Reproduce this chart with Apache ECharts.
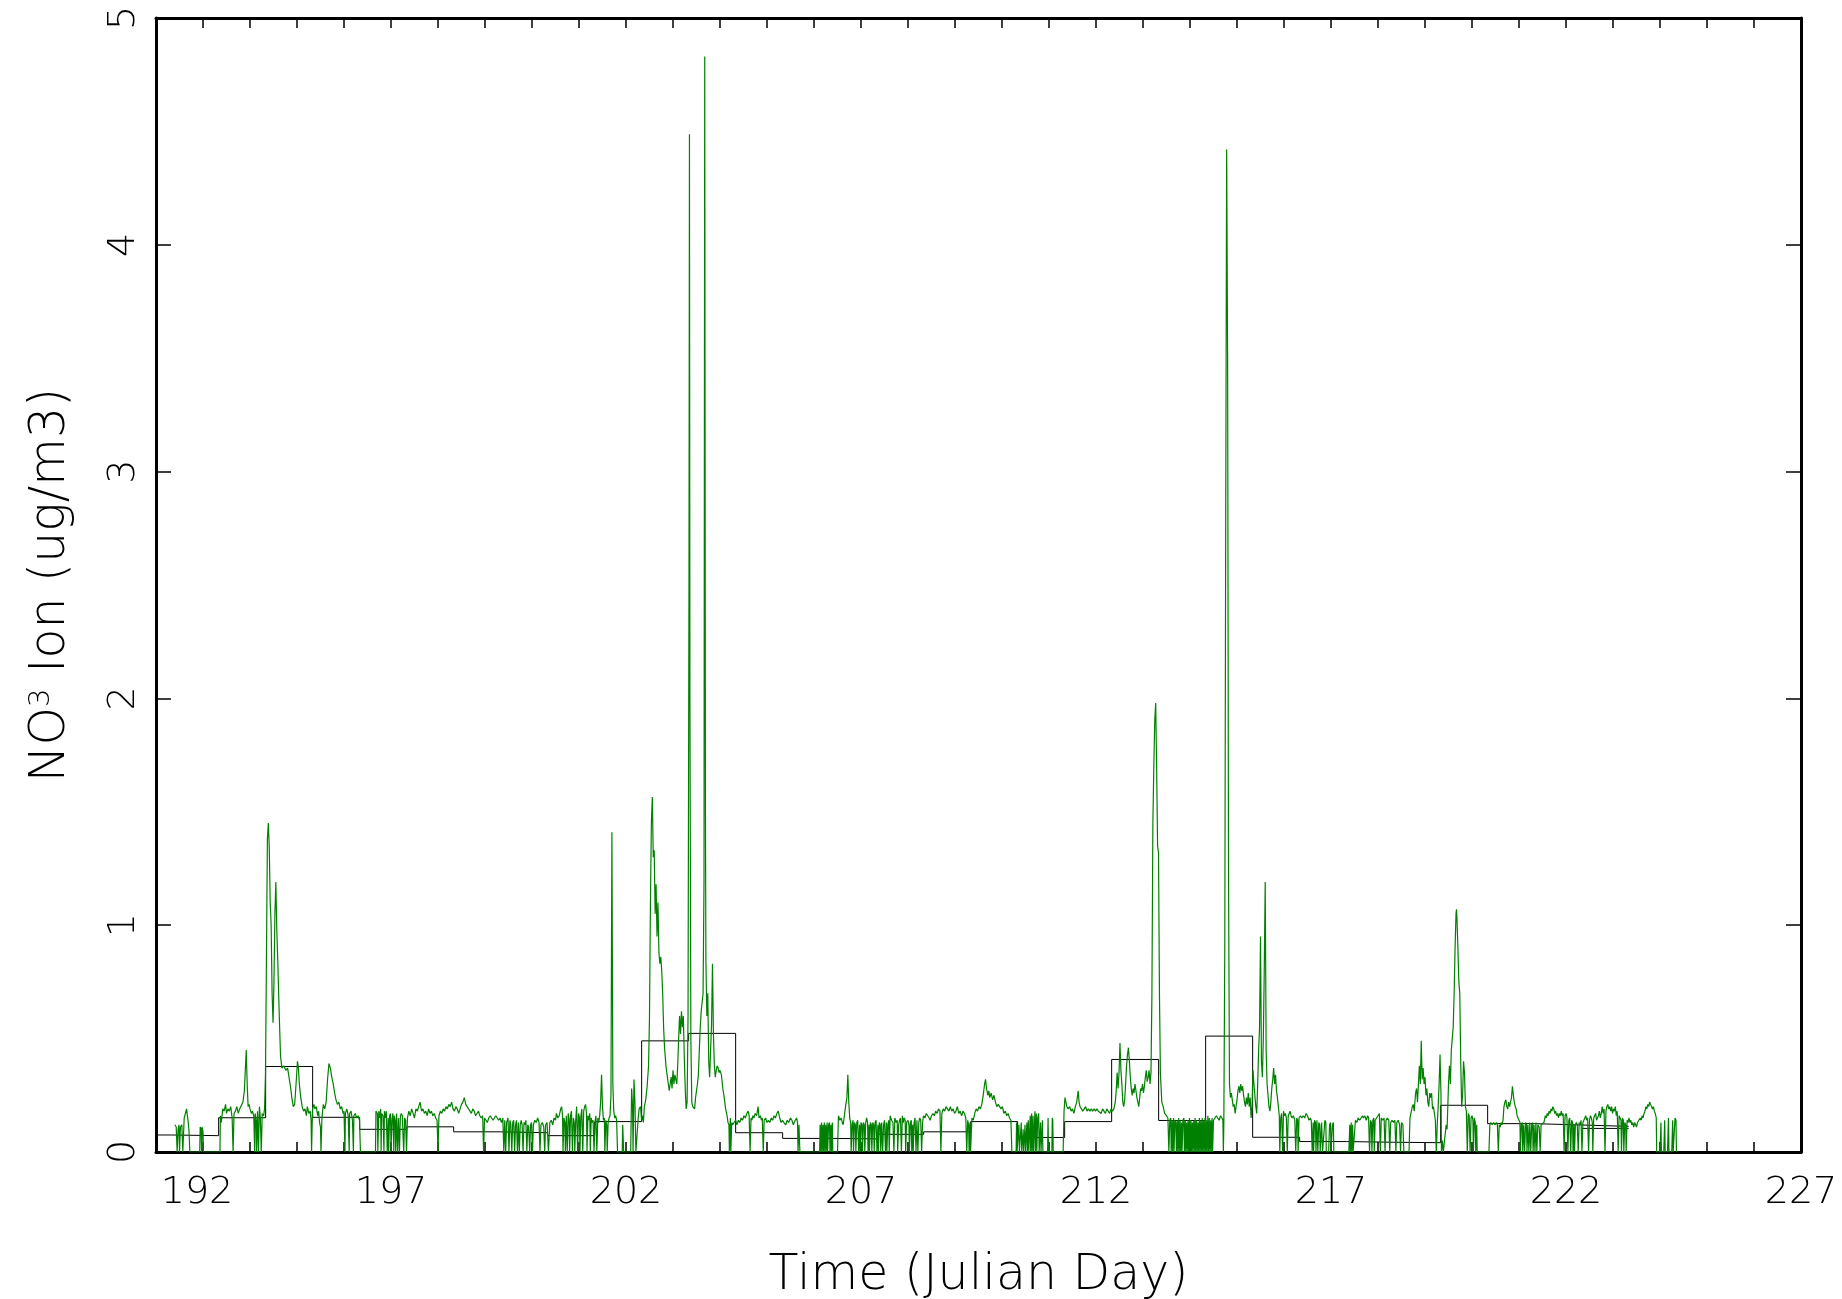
<!DOCTYPE html>
<html>
<head>
<meta charset="utf-8">
<script src="https://cdn.jsdelivr.net/npm/echarts@6/dist/echarts.min.js"></script>
<style>
  html, body { margin: 0; padding: 0; background: #fff; }
  #chart { width: 1842px; height: 1299px; }
</style>
</head>
<body>
<div id="chart"></div>
<script>
// Nitrate ion concentration, July/August campaign (Julian day axis)

// Axis ranges and tick labels
const dayMin = 192, dayMax = 227, dayLabelStep = 5;
const no3Min = 0, no3Max = 5, no3Step = 1;

// Daily filter averages: interval start day and mean NO3 (ug/m3)
const avgStartDay = [191.333, 192.333, 193.333, 194.333, 195.333, 196.333, 197.333, 198.333,
  199.333, 200.333, 201.333, 202.333, 203.333, 204.333, 205.333, 206.333,
  207.333, 208.333, 209.333, 210.333, 211.333, 212.333, 213.333, 214.333,
  215.333, 216.333, 217.333, 218.333, 219.333, 220.333, 221.333, 222.333];
const avgNO3 = [0.075, 0.072, 0.151, 0.377, 0.153, 0.100, 0.111, 0.089,
  0.085, 0.072, 0.134, 0.490, 0.523, 0.085, 0.060, 0.058,
  0.078, 0.089, 0.134, 0.064, 0.134, 0.408, 0.139, 0.511,
  0.065, 0.046, 0.043, 0.041, 0.206, 0.125, 0.119, 0.113];
const avgEndDay = 223.333;
// second estimate for the final filter day
const altDay = [222.333, 223.333];
const altNO3 = [0.104, 0.104];

// Continuous ion monitor, [day, NO3] pairs written flat
const traceWeek1 = [
  192.40,0.12, 192.43,0.11, 192.45,0, 192.47,0.10, 192.49,0.12, 192.50,0, 192.52,0.11, 192.55,0.12, 192.57,0,
  192.60,0.15, 192.65,0.19, 192.68,0.14, 192.70,0.10, 192.72,0, 192.93,0, 192.94,0.11, 192.96,0.10, 192.97,0,
  192.98,0.11, 193.00,0.09, 193.01,0, 193.36,0,
  193.37,0.16, 193.39,0.13, 193.42,0.19, 193.45,0.18, 193.48,0.21, 193.50,0.17, 193.53,0.19, 193.56,0.18,
  193.59,0.20, 193.62,0.15, 193.64,0, 193.66,0.17, 193.69,0.18, 193.72,0.20, 193.75,0.17, 193.78,0.19,
  193.82,0.19, 193.85,0.22, 193.88,0.27, 193.92,0.45, 193.94,0.30, 193.96,0.20, 193.98,0.21, 194.00,0.19,
  194.03,0.17, 194.05,0.18, 194.08,0.16, 194.10,0, 194.11,0.17, 194.13,0.14, 194.14,0, 194.16,0.18, 194.18,0,
  194.20,0.20, 194.22,0.15, 194.24,0, 194.26,0.17, 194.29,0.16, 194.31,0.19, 194.33,0.35, 194.35,0.85,
  194.37,1.38, 194.39,1.45, 194.41,1.34, 194.43,1.10, 194.45,1.00, 194.47,0.70, 194.49,0.57, 194.51,0.75,
  194.53,1.05, 194.55,1.19, 194.57,0.98, 194.59,0.85, 194.62,0.62, 194.65,0.42, 194.68,0.37, 194.72,0.38,
  194.76,0.36, 194.80,0.37, 194.83,0.33, 194.86,0.29, 194.89,0.24, 194.92,0.20, 194.95,0.21, 194.98,0.30,
  195.01,0.40, 195.03,0.37, 195.05,0.30, 195.08,0.24, 195.11,0.20, 195.14,0.18, 195.17,0.19, 195.20,0.16,
  195.22,0.20, 195.25,0.17, 195.28,0.18, 195.30,0.14, 195.31,0, 195.33,0.19, 195.36,0.21, 195.38,0.19,
  195.41,0.20, 195.44,0.16, 195.46,0.18, 195.48,0.13, 195.50,0.11, 195.51,0, 195.53,0.15, 195.56,0.21,
  195.59,0.19, 195.62,0.22, 195.65,0.32, 195.68,0.39, 195.71,0.37, 195.74,0.33, 195.77,0.30, 195.80,0.26,
  195.83,0.23, 195.86,0.21, 195.89,0.22, 195.92,0.19, 195.95,0.20, 195.98,0.17, 196.00,0.18, 196.02,0,
  196.03,0.17, 196.06,0.19, 196.09,0.16, 196.11,0, 196.12,0.17, 196.15,0.18, 196.18,0.14, 196.20,0,
  196.21,0.16, 196.24,0.17, 196.27,0.15, 196.30,0.16, 196.33,0.14, 196.35,0, 196.67,0, 196.68,0.18,
  196.71,0.17, 196.72,0, 196.74,0.18, 196.76,0.15, 196.78,0.19, 196.79,0, 196.80,0.17, 196.83,0.16, 196.85,0,
  196.86,0.18, 196.88,0.15, 196.90,0.18, 196.92,0, 196.94,0.15, 196.95,0, 196.97,0.16, 196.99,0.17, 197.00,0,
  197.02,0.14, 197.04,0.17, 197.06,0, 197.07,0.16, 197.09,0.14, 197.10,0, 197.12,0.17, 197.14,0, 197.16,0.15,
  197.18,0, 197.20,0.16, 197.22,0.17, 197.24,0.16, 197.27,0, 197.29,0.15, 197.31,0.14, 197.33,0, 197.35,0.15,
  197.38,0.18, 197.41,0.16, 197.44,0.19, 197.47,0.17, 197.50,0.15, 197.53,0.19, 197.56,0.18, 197.59,0.20,
  197.62,0.22, 197.65,0.18, 197.68,0.19, 197.71,0.17, 197.74,0.18, 197.77,0.16, 197.80,0.19, 197.83,0.17,
  197.86,0.18, 197.89,0.16, 197.92,0.17, 197.95,0.15, 197.98,0.14, 198.00,0, 198.02,0.16, 198.05,0.18,
  198.08,0.17, 198.11,0.19, 198.14,0.18, 198.17,0.20, 198.20,0.19, 198.23,0.21, 198.26,0.20, 198.29,0.22,
  198.32,0.19, 198.35,0.18, 198.38,0.20, 198.41,0.19, 198.44,0.17, 198.47,0.19, 198.50,0.21, 198.53,0.22,
  198.56,0.24, 198.59,0.21, 198.62,0.20, 198.65,0.19, 198.68,0.18, 198.71,0.17, 198.74,0.19, 198.77,0.18,
  198.80,0.16, 198.83,0.17, 198.86,0.18, 198.89,0.16, 198.92,0.15, 198.95,0.16, 198.97,0, 198.99,0.15
];
const traceWeek2 = [
  199.02,0.14, 199.05,0.13, 199.08,0.15, 199.11,0.16, 199.14,0.15, 199.17,0.14, 199.20,0.15, 199.23,0.16,
  199.26,0.15, 199.29,0.14, 199.32,0.15, 199.35,0.13, 199.38,0.15, 199.40,0, 199.42,0.14, 199.44,0,
  199.46,0.13, 199.49,0.15, 199.51,0, 199.53,0.14, 199.55,0.12, 199.57,0, 199.59,0.13, 199.61,0.14, 199.63,0,
  199.65,0.12, 199.67,0.14, 199.69,0, 199.71,0.13, 199.73,0, 199.75,0.12, 199.77,0.14, 199.79,0.12, 199.81,0,
  199.83,0.13, 199.85,0.12, 199.87,0.14, 199.89,0, 199.91,0.12, 199.93,0.11, 199.95,0, 199.97,0.12,
  199.99,0.13, 200.01,0, 200.03,0.12, 200.06,0.14, 200.09,0.13, 200.12,0.15, 200.15,0.13, 200.17,0,
  200.19,0.12, 200.22,0.13, 200.25,0.11, 200.27,0, 200.29,0.12, 200.32,0.13, 200.35,0, 200.38,0.13,
  200.41,0.14, 200.44,0.12, 200.47,0.15, 200.50,0.14, 200.52,0.17, 200.55,0.15, 200.58,0.16, 200.61,0.19,
  200.63,0.20, 200.65,0.16, 200.66,0, 200.68,0.15, 200.70,0.13, 200.71,0, 200.73,0.16, 200.75,0, 200.77,0.17,
  200.79,0.14, 200.80,0, 200.82,0.16, 200.84,0.18, 200.86,0, 200.88,0.15, 200.90,0.13, 200.91,0, 200.93,0.14,
  200.95,0.20, 200.97,0, 200.99,0.17, 201.01,0.15, 201.02,0, 201.04,0.16, 201.06,0.19, 201.08,0, 201.10,0.18,
  201.12,0.20, 201.14,0.21, 201.16,0.17, 201.17,0, 201.19,0.16, 201.21,0.14, 201.23,0.17, 201.24,0,
  201.26,0.15, 201.28,0.13, 201.30,0.14, 201.32,0, 201.34,0.13, 201.36,0.16, 201.38,0, 201.40,0.15,
  201.42,0.13, 201.44,0.16, 201.46,0.22, 201.48,0.34, 201.50,0.20, 201.52,0.14, 201.54,0.15, 201.55,0,
  201.57,0.14, 201.59,0.12, 201.60,0, 201.62,0.13, 201.64,0.15, 201.66,0.16, 201.68,0.25, 201.70,1.41,
  201.72,0.30, 201.74,0.18, 201.76,0.15, 201.78,0.16, 201.80,0.14, 201.82,0, 201.92,0, 201.93,0.12, 201.95,0,
  202.10,0, 202.12,0.28, 202.14,0.20, 202.15,0, 202.17,0.32, 202.19,0.22, 202.21,0, 202.25,0, 202.26,0.15,
  202.28,0.19, 202.31,0.20, 202.33,0.14, 202.35,0.16, 202.37,0.13, 202.39,0.20, 202.42,0.23, 202.45,0.29,
  202.48,0.38, 202.50,0.60, 202.52,1.10, 202.54,1.45, 202.56,1.565, 202.58,1.30, 202.60,1.33, 202.62,1.05,
  202.64,1.18, 202.66,0.95, 202.68,1.10, 202.70,0.88, 202.72,0.83, 202.74,0.86, 202.76,0.80, 202.78,0.70,
  202.80,0.55, 202.82,0.46, 202.85,0.38, 202.88,0.33, 202.90,0.30, 202.92,0.27, 202.94,0.30, 202.96,0.33,
  202.98,0.28, 203.00,0.36, 203.02,0.30, 203.04,0.34, 203.06,0.32, 203.08,0.30, 203.10,0.38, 203.12,0.50,
  203.14,0.60, 203.16,0.52, 203.18,0.62, 203.20,0.55, 203.22,0.60, 203.24,0.42, 203.26,0.28, 203.28,0.19,
  203.30,0.22, 203.32,0.60, 203.34,2.50, 203.35,4.487, 203.36,2.00, 203.38,0.50, 203.40,0.22, 203.42,0.20,
  203.44,0.20, 203.46,0.19, 203.48,0.24, 203.50,0.27, 203.52,0.30, 203.54,0.34, 203.56,0.45, 203.58,0.55,
  203.60,0.62, 203.62,0.66, 203.64,0.70, 203.66,1.20, 203.675,4.83, 203.69,1.50, 203.70,0.85, 203.72,0.60,
  203.74,0.70, 203.76,0.40, 203.78,0.33, 203.80,0.45, 203.82,0.56, 203.84,0.83, 203.86,0.52, 203.88,0.38,
  203.90,0.33, 203.92,0.36, 203.94,0.38, 203.96,0.37, 203.98,0.35, 204.00,0.36, 204.03,0.34, 204.06,0.28,
  204.09,0.24, 204.12,0.19, 204.15,0.16, 204.17,0.13, 204.19,0.12, 204.20,0, 204.22,0.15, 204.23,0,
  204.25,0.13, 204.27,0.12, 204.30,0.13, 204.33,0.14, 204.36,0.12, 204.39,0.14, 204.42,0.13, 204.45,0.15,
  204.48,0.14, 204.51,0.16, 204.54,0.15, 204.57,0.17, 204.60,0.18, 204.62,0.16, 204.64,0, 204.66,0.15,
  204.68,0.14, 204.70,0.16, 204.72,0.15, 204.75,0.17, 204.78,0.16, 204.81,0.20, 204.83,0.15, 204.86,0.16,
  204.88,0.14, 204.90,0.15, 204.92,0, 204.94,0.14, 204.97,0.15, 205.00,0.13, 205.03,0.14, 205.06,0.13,
  205.09,0.15, 205.12,0.14, 205.15,0.16, 205.18,0.15, 205.21,0.17, 205.24,0.18, 205.27,0.15, 205.30,0.13,
  205.33,0.14, 205.36,0.13, 205.40,0.12, 205.43,0.14, 205.46,0.13, 205.50,0.15, 205.53,0.14, 205.56,0.12,
  205.60,0.14, 205.63,0.15, 205.65,0.13, 205.66,0, 205.68,0.12, 205.70,0
];
const traceWeek3 = [
  206.12,0, 206.13,0.12, 206.14,0, 206.16,0.13, 206.17,0, 206.19,0.12, 206.20,0, 206.22,0.13, 206.23,0,
  206.25,0.12, 206.26,0, 206.28,0.13, 206.29,0, 206.31,0.12, 206.33,0.13, 206.34,0, 206.36,0.12, 206.37,0,
  206.39,0.13, 206.40,0, 206.50,0, 206.52,0.16, 206.55,0.14, 206.58,0.15, 206.60,0.13, 206.62,0.12,
  206.64,0.15, 206.67,0.20, 206.70,0.24, 206.72,0.34, 206.74,0.22, 206.76,0.15, 206.78,0.13, 206.79,0,
  206.81,0.12, 206.83,0.14, 206.84,0, 206.86,0.13, 206.88,0.12, 206.89,0, 206.91,0.13, 206.93,0.14, 206.95,0,
  206.97,0.12, 206.98,0, 207.00,0.13, 207.02,0.12, 207.03,0, 207.05,0.13, 207.07,0.12, 207.08,0, 207.10,0.13,
  207.12,0.15, 207.14,0.13, 207.15,0, 207.17,0.12, 207.18,0, 207.20,0.13, 207.22,0.12, 207.23,0, 207.25,0.13,
  207.27,0.12, 207.28,0, 207.30,0.13, 207.32,0.14, 207.34,0, 207.36,0.12, 207.37,0, 207.39,0.13, 207.41,0.12,
  207.42,0, 207.44,0.13, 207.46,0, 207.48,0.12, 207.50,0.14, 207.52,0, 207.54,0.13, 207.55,0, 207.57,0.12,
  207.59,0.14, 207.60,0, 207.62,0.16, 207.65,0.14, 207.68,0.13, 207.70,0, 207.72,0.15, 207.75,0.13,
  207.77,0.14, 207.78,0, 207.80,0.12, 207.82,0.14, 207.84,0.15, 207.86,0, 207.88,0.16, 207.90,0.13,
  207.92,0.15, 207.94,0.14, 207.95,0, 207.97,0.13, 208.00,0.14, 208.02,0.12, 208.03,0, 208.05,0.13,
  208.07,0.14, 208.08,0, 208.10,0.12, 208.11,0, 208.13,0.13, 208.15,0.15, 208.17,0, 208.19,0.14, 208.21,0,
  208.23,0.13, 208.25,0.15, 208.27,0.14, 208.29,0, 208.31,0.13, 208.33,0.16, 208.36,0.15, 208.39,0.17,
  208.42,0.16, 208.45,0.15, 208.47,0.14, 208.50,0.16, 208.53,0.17, 208.56,0.16, 208.59,0.18, 208.62,0.17,
  208.65,0.19, 208.68,0.18, 208.70,0, 208.72,0.17, 208.75,0.19, 208.78,0.18, 208.81,0.20, 208.84,0.19,
  208.87,0.18, 208.90,0.20, 208.93,0.18, 208.96,0.19, 208.99,0.17, 209.02,0.18, 209.05,0.20, 209.08,0.17,
  209.11,0.18, 209.14,0.16, 209.17,0.18, 209.20,0.17, 209.23,0.15, 209.25,0, 209.27,0.14, 209.29,0.12,
  209.30,0, 209.32,0.13, 209.33,0, 209.36,0.15, 209.39,0.14, 209.42,0.17, 209.45,0.19, 209.48,0.18,
  209.51,0.20, 209.54,0.19, 209.57,0.21, 209.60,0.25, 209.63,0.30, 209.65,0.32, 209.67,0.28, 209.70,0.25,
  209.72,0.27, 209.74,0.24, 209.77,0.26, 209.80,0.23, 209.83,0.25, 209.86,0.22, 209.89,0.20, 209.92,0.21,
  209.95,0.20, 209.98,0.19, 210.01,0.20, 210.04,0.17, 210.07,0.18, 210.10,0.16, 210.13,0.17, 210.16,0.15,
  210.19,0.14, 210.21,0, 210.30,0, 210.31,0.13, 210.32,0, 210.35,0, 210.36,0.12, 210.37,0, 210.40,0,
  210.41,0.13, 210.42,0, 210.45,0.10, 210.46,0, 210.49,0.12, 210.50,0, 210.53,0.13, 210.54,0, 210.56,0.14,
  210.57,0, 210.60,0.16, 210.61,0, 210.63,0.17, 210.64,0, 210.66,0.16, 210.67,0, 210.70,0.18, 210.71,0,
  210.73,0.17, 210.74,0, 210.76,0.15, 210.78,0.17, 210.79,0, 210.82,0.13, 210.83,0, 210.86,0.14, 210.87,0,
  210.97,0, 210.98,0.15, 210.99,0, 211.06,0, 211.07,0.15, 211.08,0.14, 211.09,0, 211.30,0, 211.32,0.18,
  211.34,0.24, 211.36,0.22, 211.38,0.20, 211.41,0.19, 211.44,0.20, 211.47,0.18, 211.50,0.19, 211.53,0.17,
  211.56,0.20, 211.59,0.22, 211.62,0.27, 211.64,0.22, 211.66,0.20, 211.69,0.19, 211.72,0.18, 211.75,0.19,
  211.78,0.20, 211.81,0.18, 211.84,0.19, 211.87,0.18, 211.90,0.19, 211.93,0.18, 211.96,0.19, 211.99,0.18,
  212.02,0.19, 212.05,0.18, 212.08,0.18, 212.11,0.17, 212.14,0.19, 212.17,0.18, 212.20,0.17, 212.23,0.19,
  212.26,0.18, 212.29,0.17, 212.32,0.19, 212.35,0.18, 212.38,0.19, 212.41,0.22, 212.43,0.27, 212.45,0.35,
  212.47,0.28, 212.49,0.35, 212.51,0.48, 212.53,0.36, 212.55,0.30, 212.57,0.22, 212.59,0.20, 212.61,0.23,
  212.63,0.30, 212.65,0.38, 212.67,0.43, 212.69,0.46, 212.71,0.40, 212.73,0.33, 212.75,0.28, 212.77,0.25,
  212.79,0.28, 212.81,0.26, 212.83,0.30, 212.85,0.27, 212.87,0.24, 212.89,0.22, 212.91,0.20, 212.93,0.24,
  212.95,0.28, 212.97,0.27, 212.99,0.30
];
const traceWeek4 = [
  213.01,0.26, 213.03,0.29, 213.05,0.33, 213.07,0.36, 213.09,0.31, 213.11,0.33, 213.13,0.36, 213.15,0.30,
  213.17,0.35, 213.19,0.70, 213.21,1.45, 213.23,1.70, 213.25,1.90, 213.27,1.98, 213.29,1.70, 213.31,1.35,
  213.33,1.32, 213.35,0.70, 213.37,0.35, 213.40,0.22, 213.43,0.20, 213.46,0.17, 213.50,0.16, 213.53,0.15,
  213.55,0, 213.57,0.14, 213.59,0.15, 213.60,0, 213.62,0.14, 213.63,0, 213.65,0.15, 213.66,0, 213.68,0.14,
  213.70,0.13, 213.71,0, 213.73,0.14, 213.74,0, 213.76,0.15, 213.77,0, 213.79,0.14, 213.80,0, 213.82,0.13,
  213.83,0, 213.85,0.14, 213.87,0.15, 213.88,0, 213.90,0.14, 213.91,0, 213.93,0.13, 213.94,0, 213.96,0.14,
  213.97,0, 213.99,0.15, 214.00,0, 214.02,0.14, 214.03,0, 214.05,0.13, 214.06,0, 214.08,0.14, 214.09,0,
  214.11,0.15, 214.12,0, 214.14,0.14, 214.15,0, 214.17,0.13, 214.18,0, 214.20,0.15, 214.21,0, 214.23,0.14,
  214.24,0, 214.26,0.15, 214.27,0, 214.29,0.14, 214.30,0, 214.32,0.15, 214.33,0, 214.35,0.14, 214.36,0,
  214.38,0.16, 214.39,0, 214.41,0.15, 214.42,0, 214.44,0.14, 214.45,0, 214.47,0.15, 214.48,0, 214.50,0.14,
  214.53,0.15, 214.56,0.16, 214.59,0.15, 214.62,0.14, 214.65,0.16, 214.68,0.15, 214.70,0.14, 214.71,0,
  214.72,0.13, 214.74,0.90, 214.76,2.80, 214.78,4.42, 214.80,3.50, 214.82,1.20, 214.84,0.30, 214.86,0.24,
  214.88,0.26, 214.90,0.23, 214.92,0.20, 214.94,0.21, 214.96,0.17, 214.98,0.20, 215.00,0.23, 215.02,0.27,
  215.04,0.29, 215.06,0.26, 215.08,0.30, 215.10,0.27, 215.12,0.29, 215.14,0.25, 215.16,0.22, 215.18,0.20,
  215.20,0.24, 215.22,0.21, 215.24,0.26, 215.26,0.20, 215.28,0.24, 215.30,0.15, 215.32,0.20, 215.34,0.36,
  215.36,0.30, 215.38,0.25, 215.40,0.20, 215.42,0.17, 215.44,0.30, 215.46,0.45, 215.48,0.55, 215.50,0.95,
  215.52,0.40, 215.54,0.33, 215.56,0.50, 215.58,0.80, 215.60,1.19, 215.62,0.45, 215.64,0.30, 215.66,0.25,
  215.68,0.20, 215.70,0.18, 215.72,0.22, 215.74,0.28, 215.76,0.32, 215.78,0.37, 215.80,0.30, 215.82,0.34,
  215.84,0.27, 215.86,0.24, 215.88,0.20, 215.90,0.16, 215.91,0, 215.93,0.15, 215.95,0.17, 215.97,0,
  215.99,0.18, 216.01,0.16, 216.03,0.17, 216.05,0.15, 216.07,0, 216.09,0.16, 216.11,0.17, 216.13,0.18,
  216.15,0.16, 216.17,0.15, 216.20,0.16, 216.23,0.14, 216.25,0, 216.27,0.15, 216.29,0.14, 216.30,0,
  216.32,0.15, 216.35,0.16, 216.38,0.15, 216.41,0.16, 216.44,0.15, 216.47,0.17, 216.50,0.16, 216.53,0.14,
  216.56,0.15, 216.58,0.14, 216.60,0, 216.62,0.13, 216.63,0, 216.65,0.14, 216.67,0.13, 216.68,0, 216.70,0.14,
  216.72,0, 216.74,0.13, 216.76,0.12, 216.77,0, 216.80,0.13, 216.82,0, 216.85,0, 216.87,0.14, 216.89,0.13,
  216.90,0, 216.95,0, 216.97,0.12, 216.99,0.13, 217.00,0, 217.03,0.12, 217.05,0.13, 217.06,0, 217.38,0,
  217.40,0.12, 217.41,0, 217.43,0.13, 217.44,0, 217.46,0.12, 217.47,0, 217.50,0, 217.52,0.14, 217.55,0.13,
  217.58,0.15, 217.61,0.14, 217.64,0.15, 217.67,0.16, 217.69,0.15, 217.72,0.16, 217.75,0.14, 217.78,0.16,
  217.80,0.15, 217.82,0, 217.84,0.14, 217.86,0.13, 217.87,0, 217.89,0.14, 217.91,0.15, 217.92,0, 217.94,0.14,
  217.97,0.15, 218.00,0.16, 218.03,0.17, 218.05,0, 218.07,0.15, 218.10,0.14, 218.13,0.15, 218.15,0,
  218.17,0.14, 218.20,0.15, 218.23,0.14, 218.25,0, 218.27,0.13, 218.30,0.14, 218.33,0.13, 218.36,0.14,
  218.38,0, 218.40,0.13, 218.43,0.14, 218.46,0.12, 218.48,0, 218.50,0.13, 218.53,0.12, 218.55,0, 218.66,0,
  218.68,0.15, 218.70,0.17, 218.73,0.20, 218.75,0.21, 218.77,0.18, 218.80,0.26, 218.82,0.28, 218.84,0.22,
  218.86,0.30, 218.88,0.38, 218.90,0.30, 218.92,0.49, 218.94,0.32, 218.96,0.37, 218.98,0.30, 219.00,0.33,
  219.02,0.25, 219.04,0.28, 219.06,0.22, 219.08,0.20, 219.10,0.26, 219.12,0.24, 219.14,0.26, 219.16,0.19,
  219.18,0.20, 219.20,0.17, 219.22,0.14, 219.24,0, 219.26,0.12, 219.28,0.20, 219.30,0.30, 219.32,0.43,
  219.34,0.25, 219.35,0, 219.37,0.05, 219.39,0, 219.45,0.12, 219.47,0.10, 219.50,0.30, 219.52,0.38,
  219.54,0.30, 219.56,0.45, 219.58,0.50, 219.60,0.55, 219.62,0.70, 219.64,0.90, 219.66,1.05, 219.67,1.07,
  219.68,1.03, 219.70,0.90, 219.72,0.75, 219.74,0.70, 219.76,0.40, 219.78,0.20, 219.80,0.25, 219.82,0.40,
  219.84,0.35, 219.86,0.20, 219.88,0.18, 219.90,0, 219.92,0.17, 219.94,0.16, 219.96,0, 219.98,0.15
];
const traceWeek5 = [
  220.00,0.16, 220.02,0.14, 220.03,0, 220.05,0.15, 220.07,0.13, 220.08,0, 220.10,0.12, 220.11,0, 220.36,0,
  220.38,0.12, 220.40,0.13, 220.43,0.12, 220.46,0.13, 220.49,0.12, 220.52,0.13, 220.54,0.12, 220.56,0,
  220.58,0.12, 220.60,0.11, 220.62,0.13, 220.64,0.12, 220.66,0.14, 220.68,0.20, 220.70,0.22, 220.72,0.23,
  220.74,0.20, 220.76,0.19, 220.78,0.22, 220.80,0.20, 220.82,0.22, 220.84,0.24, 220.86,0.29, 220.88,0.25,
  220.90,0.22, 220.92,0.20, 220.94,0.19, 220.96,0.16, 220.98,0.15, 221.00,0.14, 221.02,0.13, 221.03,0,
  221.05,0.12, 221.07,0.13, 221.08,0, 221.10,0.12, 221.12,0, 221.14,0.13, 221.16,0.12, 221.17,0, 221.19,0.12,
  221.21,0, 221.23,0.13, 221.25,0, 221.27,0.12, 221.29,0.13, 221.30,0, 221.32,0.12, 221.34,0, 221.36,0.13,
  221.38,0, 221.40,0.12, 221.43,0.11, 221.45,0, 221.47,0.12, 221.50,0.12, 221.53,0.13, 221.56,0.16,
  221.58,0.15, 221.60,0.17, 221.62,0.16, 221.64,0.18, 221.66,0.17, 221.68,0.19, 221.70,0.18, 221.72,0.20,
  221.74,0.19, 221.76,0.17, 221.78,0.18, 221.80,0.16, 221.82,0.17, 221.84,0.15, 221.86,0.17, 221.88,0.16,
  221.90,0.18, 221.92,0.16, 221.94,0.17, 221.96,0, 221.98,0.16, 222.00,0.17, 222.02,0.15, 222.04,0,
  222.06,0.14, 222.08,0.15, 222.10,0, 222.12,0.14, 222.14,0.13, 222.15,0, 222.17,0.12, 222.18,0, 222.20,0.12,
  222.22,0.13, 222.24,0.12, 222.26,0, 222.28,0.13, 222.30,0.12, 222.32,0.14, 222.34,0, 222.36,0.13,
  222.38,0.14, 222.40,0.15, 222.42,0.16, 222.44,0.14, 222.46,0.15, 222.48,0, 222.50,0.14, 222.52,0.16,
  222.54,0.15, 222.56,0.13, 222.57,0, 222.59,0.15, 222.61,0.16, 222.63,0.17, 222.65,0.14, 222.67,0.15,
  222.69,0.16, 222.71,0.18, 222.73,0.15, 222.75,0.17, 222.77,0.20, 222.79,0.17, 222.81,0.19, 222.83,0,
  222.85,0.18, 222.87,0.20, 222.89,0.21, 222.91,0.19, 222.93,0.20, 222.95,0.18, 222.97,0.20, 222.99,0.17,
  223.01,0.19, 223.03,0.18, 223.05,0.20, 223.07,0.16, 223.09,0.18, 223.11,0, 223.13,0.16, 223.15,0.15,
  223.17,0.14, 223.18,0, 223.20,0.15, 223.22,0.14, 223.23,0, 223.25,0.13, 223.27,0.12, 223.28,0, 223.30,0.14,
  223.32,0.13, 223.34,0.15, 223.36,0.13, 223.38,0.14, 223.40,0.12, 223.42,0.13, 223.44,0.11, 223.46,0.13,
  223.48,0.12, 223.50,0.11, 223.52,0.13, 223.55,0.14, 223.58,0.15, 223.60,0.14, 223.62,0.16, 223.64,0.15,
  223.66,0.17, 223.68,0.18, 223.70,0.20, 223.72,0.19, 223.74,0.21, 223.76,0.20, 223.78,0.22, 223.80,0.21,
  223.82,0.20, 223.84,0.19, 223.86,0.20, 223.88,0.18, 223.90,0.17, 223.92,0.15, 223.93,0, 224.00,0,
  224.02,0.13, 224.03,0, 224.08,0, 224.10,0.14, 224.11,0, 224.16,0, 224.18,0.15, 224.19,0, 224.25,0,
  224.27,0.14, 224.28,0, 224.31,0, 224.32,0.15, 224.34,0.14, 224.35,0
];

function toPairs(flat) {
  const out = [];
  for (let i = 0; i < flat.length; i += 2) out.push([flat[i], flat[i + 1]]);
  return out;
}
const monitorTrace = [].concat(
  toPairs(traceWeek1), toPairs(traceWeek2), toPairs(traceWeek3),
  toPairs(traceWeek4), toPairs(traceWeek5)
);

// Daily averages as flat steps
const dailySteps = [];
avgStartDay.forEach((d, i) => {
  const next = i + 1 < avgStartDay.length ? avgStartDay[i + 1] : avgEndDay;
  dailySteps.push([d, avgNO3[i]], [next, avgNO3[i]]);
});
const altSteps = altDay.map((d, i) => [d, altNO3[i]]);

const FONT = '"DejaVu Sans", sans-serif';
const W = 200;
const tickLabelStyle = { fontFamily: FONT, fontWeight: W, fontSize: 38, color: '#000' };
const axisLineStyle = { color: '#000', width: 3 };
const tickLine = { color: '#000', width: 1.5 };

const chart = echarts.init(document.getElementById('chart'), null, { renderer: 'canvas' });

const xCommon = {
  type: 'value', min: dayMin, max: dayMax, interval: dayLabelStep,
  axisLine: { show: true, onZero: false, lineStyle: axisLineStyle },
  axisTick: { show: true, inside: true, length: 10, lineStyle: tickLine },
  minorTick: { show: true, splitNumber: dayLabelStep, length: 10, lineStyle: tickLine },
  splitLine: { show: false }, minorSplitLine: { show: false }
};
const yCommon = {
  type: 'value', min: no3Min, max: no3Max, interval: no3Step,
  axisLine: { show: true, onZero: false, lineStyle: axisLineStyle },
  axisTick: { show: true, inside: true, length: 15, lineStyle: tickLine },
  splitLine: { show: false }
};

chart.setOption({
  animation: false,
  backgroundColor: '#fff',
  grid: { left: 156, right: 41, top: 18, bottom: 147, containLabel: false, outerBoundsMode: 'none' },
  xAxis: [
    Object.assign({}, xCommon, {
      position: 'bottom',
      axisLabel: Object.assign({}, tickLabelStyle, {
        margin: 22,
        formatter: v => (v === dayMin ? '{first|' + v + '}' : String(v)),
        rich: { first: Object.assign({}, tickLabelStyle, { padding: [0, 0, 0, 82] }) }
      }),
      name: 'Time (Julian Day)',
      nameLocation: 'middle',
      nameGap: 100,
      nameTextStyle: { fontFamily: FONT, fontWeight: W, fontSize: 49, color: '#000' }
    }),
    Object.assign({}, xCommon, { position: 'top', axisLabel: { show: false } })
  ],
  yAxis: [
    Object.assign({}, yCommon, {
      position: 'left',
      axisLabel: Object.assign({}, tickLabelStyle, { rotate: 90, margin: 13 }),
      name: '{t|NO}{s|3}{t| Ion (ug/m3)}',
      nameLocation: 'middle',
      nameGap: 80,
      nameTextStyle: {
        rich: {
          t: { fontFamily: FONT, fontWeight: W, fontSize: 49, color: '#000' },
          s: { fontFamily: FONT, fontWeight: W, fontSize: 29, color: '#000', verticalAlign: 'top' }
        }
      }
    }),
    Object.assign({}, yCommon, { position: 'right', axisLabel: { show: false } })
  ],
  series: [
    {
      name: 'Daily average',
      type: 'line',
      xAxisIndex: 0, yAxisIndex: 0,
      data: dailySteps,
      showSymbol: false, symbol: 'none',
      lineStyle: { color: '#000', width: 1 },
      z: 2
    },
    {
      name: 'Daily average (alt)',
      type: 'line',
      xAxisIndex: 0, yAxisIndex: 0,
      data: altSteps,
      showSymbol: false, symbol: 'none',
      lineStyle: { color: '#000', width: 1 },
      z: 2
    },
    {
      name: 'NO3 monitor',
      type: 'line',
      xAxisIndex: 0, yAxisIndex: 0,
      data: monitorTrace,
      showSymbol: false, symbol: 'none',
      sampling: null,
      lineStyle: { color: '#008000', width: 1.2 },
      z: 3
    }
  ]
});
</script>
</body>
</html>
